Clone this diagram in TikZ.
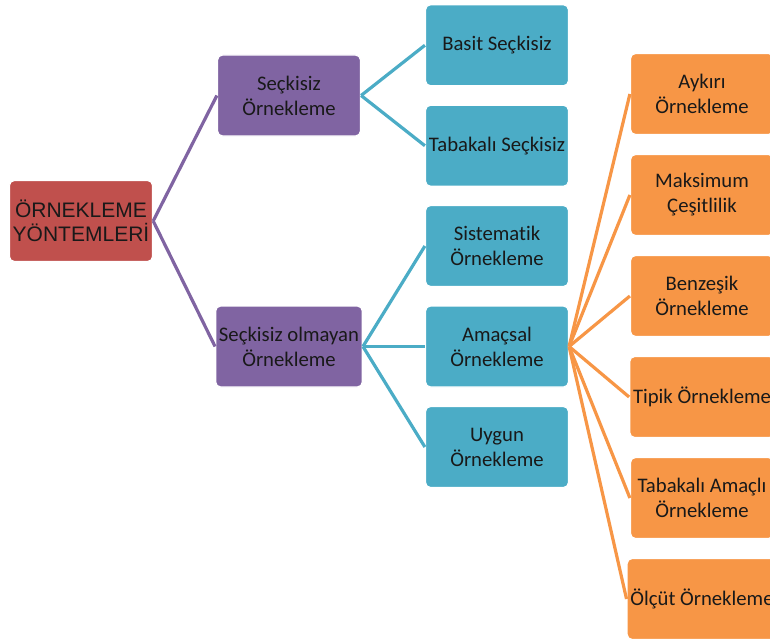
\documentclass[tikz,border=0pt]{standalone}
\usepackage{fontspec}
\setmainfont{Carlito}[Ligatures=NoCommon]
\newfontfamily\rootfont{Liberation Sans}
\definecolor{redbox}{HTML}{C0504D}
\definecolor{purplebox}{HTML}{8064A2}
\definecolor{bluebox}{HTML}{4BACC6}
\definecolor{orangebox}{HTML}{F79646}
\tikzset{
  box/.style={rectangle, rounded corners=5pt, draw=white, line width=1.2pt,
    minimum width=143pt, minimum height=81pt, align=center, text=black!90,
    font=\fontsize{20.7}{25}\selectfont},
  rootbox/.style={box, fill=redbox, font=\rootfont\fontsize{21}{23.5}\selectfont},
  purplenode/.style={box, fill=purplebox},
  bluenode/.style={box, fill=bluebox},
  orangenode/.style={box, fill=orangebox}
}
\begin{document}
\begin{tikzpicture}[grow'=right,
  edge from parent path={(\tikzparentnode.east) -- (\tikzchildnode.west)},
  level 1/.style={level distance=208pt, sibling distance=251pt, edge from parent/.style={draw=purplebox, line width=3.2pt}},
  level 2/.style={level distance=208pt, sibling distance=100.5pt, edge from parent/.style={draw=bluebox, line width=3.2pt}},
  level 3/.style={level distance=205pt, sibling distance=101pt, edge from parent/.style={draw=orangebox, line width=3.2pt}}]
\clip (-81pt,-422pt) rectangle (689pt,221pt);
\node[rootbox] (root) {ÖRNEKLEME\\YÖNTEMLERİ}
    child {node[purplenode] (random) {Seçkisiz\\Örnekleme}
        child {node[bluenode] (simple) {Basit Seçkisiz} }
        child {node[bluenode] (strat) {Tabakalı Seçkisiz} }
    }
    child {node[purplenode] (nonrandom) {Seçkisiz olmayan\\Örnekleme}
        child {node[bluenode] (system) {Sistematik\\Örnekleme} }
        child {node[bluenode] (purpose) {Amaçsal\\Örnekleme}
            child {node[orangenode] (extreme) {Aykırı\\Örnekleme} }
            child {node[orangenode] (maxvar) {Maksimum\\Çeşitlilik} }
            child {node[orangenode] (homog) {Benzeşik\\Örnekleme} }
            child {node[orangenode] (typical) {Tipik Örnekleme} }
            child {node[orangenode] (stratpur) {Tabakalı Amaçlı\\Örnekleme} }
            child {node[orangenode] (criterion) {Ölçüt Örnekleme} }
        }
        child {node[bluenode] (conven) {Uygun\\Örnekleme} }
    };
\end{tikzpicture}
\end{document}
